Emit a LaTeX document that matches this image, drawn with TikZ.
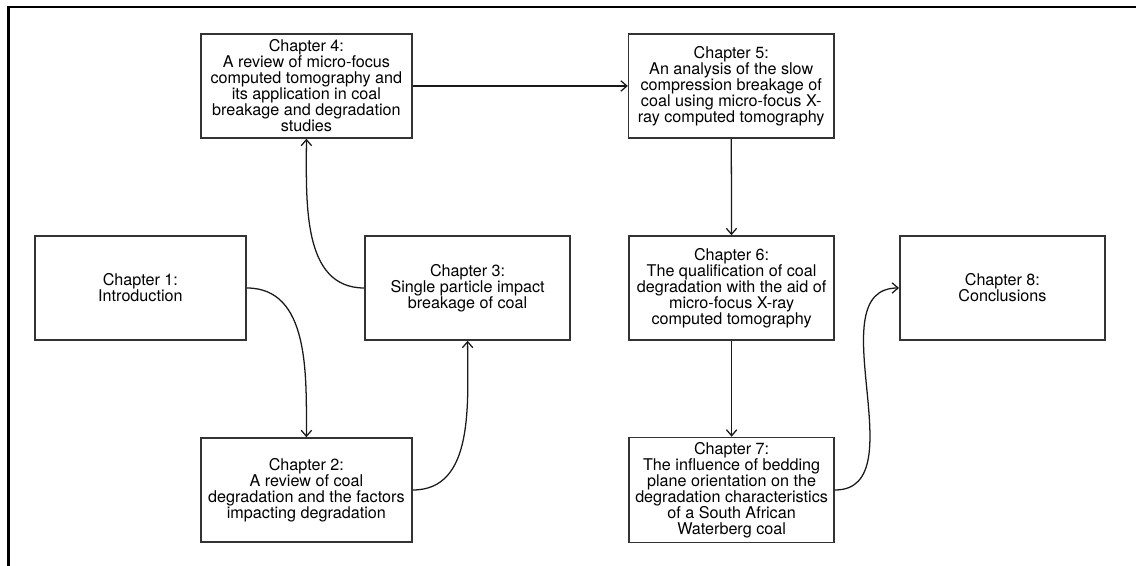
\documentclass[tikz,border=0pt]{standalone}
\usepackage{fontspec}
\setmainfont{TeX Gyre Heros}
\usepackage{tikz}
\usetikzlibrary{arrows, arrows.meta}
\tikzset{
    >={Straight Barb[length=1.5mm, width=2.6mm]},
    chapter/.style={draw=black!80, line width=1.1pt, minimum height=2.6cm, align=center,
        font=\fontsize{11.5}{11.4}\selectfont},
    wide/.style={chapter, minimum width=5.28cm},
    narrow/.style={chapter, minimum width=5.13cm},
    link/.style={->, line width=0.9pt, black!90},
    frame/.style={line width=1.6pt},
}

\begin{document}
\begin{tikzpicture}
        \useasboundingbox (0,0) rectangle (28.4,14.15);
        \draw[frame] (0.21,0) -- (0.21,13.975) -- (28.4,13.975);
        \node[wide] (c1) at (3.51,6.95) {Chapter 1:\\Introduction};
        \node[wide] (c2) at (7.66,1.9) {Chapter 2:\\A review of coal\\degradation and the factors\\impacting degradation};
        \node[narrow] (c3) at (11.69,6.95) {Chapter 3:\\Single particle impact\\breakage of coal};
        \node[wide] (c4) at (7.66,12.0) {Chapter 4:\\A review of micro-focus\\computed tomography and\\its application in coal\\breakage and degradation\\studies};
        \node[narrow] (c5) at (18.28,12.0) {Chapter 5:\\An analysis of the slow\\compression breakage of\\coal using micro-focus X-\\ray computed tomography};
        \node[narrow] (c6) at (18.29,6.95) {Chapter 6:\\The qualification of coal\\degradation with the aid of\\micro-focus X-ray\\computed tomography};
        \node[narrow] (c7) at (18.29,1.9) {Chapter 7:\\The influence of bedding\\plane orientation on the\\degradation characteristics\\of a South African\\Waterberg coal};
        \node[narrow] (c8) at (25.06,6.95) {Chapter 8:\\Conclusions};
        \draw[link] (c1.east) to[out=0, in=90] (c2.north);
        \draw[link] (c2.east) to[out=0, in=-90] (c3.south);
        \draw[link] (c3.west) to[out=180, in=-90] (c4.south);
        \foreach \a/\b in {c4/c5,c5/c6,c6/c7} \draw[link] (\a) -- (\b);
        \draw[link] (c7.east) to[out=0, in=180] (c8.west);
    \end{tikzpicture}
\end{document}
